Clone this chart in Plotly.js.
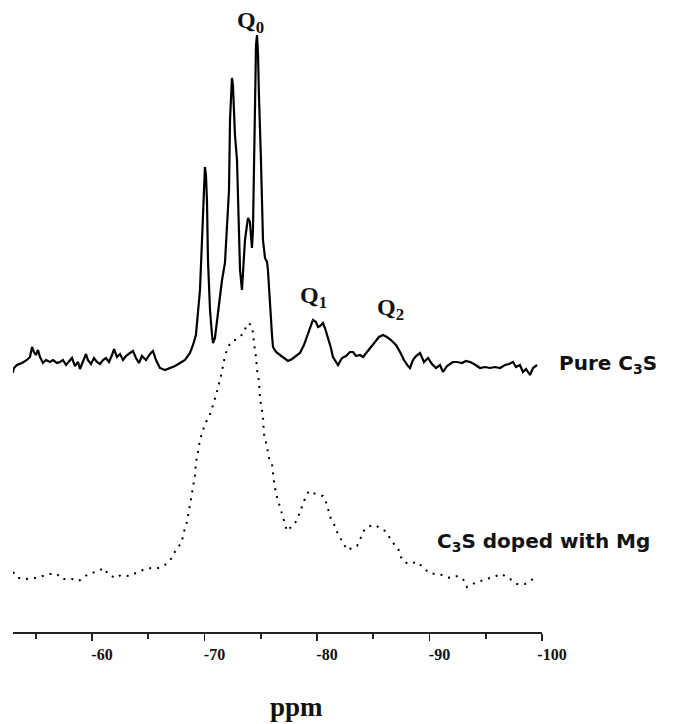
<!DOCTYPE html>
<html>
<head>
<meta charset="utf-8">
<script src="https://cdn.plot.ly/plotly-3.0.1.min.js"></script>
<style>
  html, body { margin: 0; padding: 0; background: #fff; }
  #chart { width: 678px; height: 724px; }
</style>
</head>
<body>
<div id="chart"></div>
<script>
// Chemical shift (ppm) and intensity (a.u.) for pure C3S (solid line)
const purePpm = [-52.95,-53.07,-53.33,-53.78,-54.22,-54.49,-54.67,-54.84,-55.02,-55.2,-55.38,-55.64,-55.91,-56.27,-56.53,-56.89,-57.16,-57.42,-57.69,-57.96,-58.22,-58.49,-58.76,-58.93,-59.2,-59.47,-59.64,-59.91,-60.18,-60.44,-60.71,-60.98,-61.24,-61.51,-61.78,-61.96,-62.22,-62.49,-62.76,-63.02,-63.38,-63.64,-63.91,-64.18,-64.44,-64.8,-65.16,-65.42,-65.69,-66.04,-66.49,-66.93,-67.38,-67.82,-68.27,-68.71,-68.98,-69.24,-69.42,-69.6,-69.78,-69.96,-70.04,-70.13,-70.22,-70.31,-70.49,-70.67,-70.76,-70.93,-71.11,-71.38,-71.56,-71.82,-72.0,-72.18,-72.27,-72.36,-72.44,-72.53,-72.62,-72.71,-72.89,-72.98,-73.07,-73.16,-73.33,-73.42,-73.6,-73.78,-73.87,-74.04,-74.13,-74.22,-74.31,-74.4,-74.49,-74.58,-74.67,-74.76,-74.84,-74.93,-75.02,-75.11,-75.2,-75.38,-75.56,-75.64,-75.82,-76.0,-76.09,-76.36,-76.71,-77.07,-77.42,-77.78,-78.13,-78.49,-78.84,-79.2,-79.38,-79.64,-79.91,-80.09,-80.27,-80.53,-80.71,-80.98,-81.24,-81.42,-81.69,-81.87,-82.22,-82.58,-82.93,-83.2,-83.47,-83.82,-84.09,-84.44,-84.8,-85.16,-85.51,-85.87,-86.22,-86.58,-86.76,-87.02,-87.38,-87.73,-88.09,-88.27,-88.53,-88.8,-89.16,-89.51,-89.87,-90.22,-90.58,-90.93,-91.2,-91.56,-91.82,-92.09,-92.44,-92.89,-93.24,-93.6,-93.96,-94.22,-94.49,-94.93,-95.38,-95.82,-96.27,-96.71,-97.07,-97.42,-97.69,-98.04,-98.31,-98.58,-98.93,-99.2,-99.56];
const pureInt = [-6,-1,2,4,7,10,20,15,12,17,10,4,7,5,7,4,5,7,2,6,9,1,5,-2,5,13,7,3,9,5,3,7,9,5,12,18,10,13,7,11,14,16,9,4,11,7,13,16,7,-1,-3,-1,1,4,7,14,22,32,52,77,127,187,200,192,167,107,57,32,24,29,47,70,87,104,137,177,247,277,289,282,257,232,207,167,127,97,77,97,127,142,149,145,135,119,137,217,277,322,332,312,272,247,207,167,127,109,105,97,60,32,20,15,12,9,6,8,11,14,22,34,40,47,45,40,41,44,39,30,19,10,5,2,9,11,15,15,11,12,10,15,19,25,30,32,30,27,25,22,15,7,1,-1,7,11,14,5,9,3,-1,2,-5,1,3,5,5,4,6,5,3,1,-1,0,-1,0,-1,2,3,5,0,2,-5,-2,-8,-1,2];

// Chemical shift (ppm) and intensity (a.u.) for C3S doped with Mg (dotted line)
const dopedPpm = [-52.98,-53.42,-53.78,-54.22,-54.93,-55.56,-56.27,-56.89,-57.33,-57.78,-58.22,-58.84,-59.38,-60.0,-60.53,-61.07,-61.42,-62.04,-62.58,-63.29,-63.91,-64.53,-65.24,-65.87,-66.49,-67.02,-67.29,-67.64,-68.0,-68.09,-68.44,-68.71,-68.89,-68.98,-69.16,-69.24,-69.42,-69.6,-69.87,-70.13,-70.4,-70.67,-70.76,-71.11,-71.2,-71.38,-71.47,-71.64,-71.73,-71.82,-72.0,-72.09,-72.44,-72.71,-72.98,-73.42,-73.69,-73.96,-74.22,-74.31,-74.49,-74.58,-74.67,-74.76,-74.84,-74.93,-75.02,-75.11,-75.2,-75.29,-75.47,-75.56,-75.73,-76.0,-76.18,-76.36,-76.71,-76.98,-77.16,-77.33,-77.6,-77.87,-78.22,-78.49,-78.76,-79.02,-79.29,-79.64,-80.09,-80.53,-80.8,-81.24,-81.6,-81.78,-82.04,-82.4,-82.67,-83.11,-83.56,-83.82,-84.09,-84.36,-84.71,-85.16,-85.6,-86.04,-86.49,-86.76,-87.2,-87.56,-88.09,-88.44,-88.89,-89.42,-89.96,-90.49,-91.11,-91.82,-92.53,-93.16,-93.33,-94.04,-94.76,-95.38,-95.91,-96.44,-96.8,-97.16,-97.78,-98.49,-99.2,-99.56];
const dopedInt = [5,-1,-1,-2,-1,1,3,3,-2,-2,-2,-4,1,4,6,9,3,-1,2,1,4,7,9,9,12,18,24,29,35,42,55,72,82,90,102,114,125,137,147,155,160,168,172,185,191,196,202,209,215,221,227,230,236,237,239,243,250,254,250,244,226,220,207,202,196,179,172,166,160,143,136,130,119,113,95,83,70,59,53,46,49,51,57,65,74,81,86,84,82,81,75,58,51,45,40,33,27,29,31,37,45,49,51,52,49,46,39,34,29,17,13,14,15,10,4,3,2,-1,1,-4,-10,-6,-3,-1,1,3,0,-2,-7,-7,-2,-1];

// Axis ticks
const tickVals = [-60, -70, -80, -90, -100];
const tickText = ['-60', '-70', '-80', '-90', '-100'];
const minorTickVals = [-55, -65, -75, -85, -95];

// Peak labels
const peakLabels = ['Q<sub>0</sub>', 'Q<sub>1</sub>', 'Q<sub>2</sub>'];
const peakLabelPpm = [-74.1, -79.7, -86.5];
const peakLabelInt = [345, 70, 58];

// Vertical stacking offsets (a.u.)
const pureOffset = 265;
const dopedOffset = 55;

const traces = [
  {
    x: purePpm, y: pureInt.map(v => v + pureOffset),
    type: 'scatter', mode: 'lines',
    line: { color: '#000', width: 2.2, shape: 'linear' },
    hoverinfo: 'skip'
  },
  {
    x: dopedPpm, y: dopedInt.map(v => v + dopedOffset),
    type: 'scatter', mode: 'lines',
    line: { color: '#000', width: 2, dash: '2px,6px' },
    hoverinfo: 'skip'
  }
];

const serif = 'Liberation Serif, Times New Roman, serif';
const sans = 'DejaVu Sans, Liberation Sans, sans-serif';

const annotations = peakLabels.map((t, i) => ({
  x: peakLabelPpm[i], y: peakLabelInt[i] + pureOffset, xref: 'x', yref: 'y',
  text: '<b>' + t + '</b>', showarrow: false,
  font: { family: serif, size: 24, color: '#111' },
  xanchor: 'center', yanchor: 'middle'
}));

annotations.push({
  x: 1.028, xref: 'paper', y: pureOffset + 3, yref: 'y',
  text: '<b>Pure C<sub>3</sub>S</b>', showarrow: false,
  font: { family: sans, size: 20, color: '#111' },
  xanchor: 'left', yanchor: 'middle'
});
annotations.push({
  x: -90.49, xref: 'x', y: dopedOffset + 35, yref: 'y',
  text: '<b>C<sub>3</sub>S doped with Mg</b>', showarrow: false,
  font: { family: sans, size: 20, color: '#111' },
  xanchor: 'left', yanchor: 'middle'
});
annotations.push({
  x: -78.2, xref: 'x', y: -0.118, yref: 'paper',
  text: '<b>ppm</b>', showarrow: false,
  font: { family: serif, size: 27, color: '#111' },
  xanchor: 'center', yanchor: 'middle'
});

const layout = {
  width: 678, height: 724,
  margin: { l: 13, r: 136, t: 0, b: 92 },
  paper_bgcolor: '#fff', plot_bgcolor: '#fff',
  showlegend: false,
  hovermode: false,
  xaxis: {
    range: [-52.98, -100],
    showgrid: false, zeroline: false,
    showline: true, linecolor: '#222', linewidth: 1.6,
    ticks: 'outside', ticklen: 7, tickwidth: 1.6, tickcolor: '#222',
    tickmode: 'array', tickvals: tickVals, ticktext: tickText,
    ticklabelshift: -10,
    tickfont: { family: serif, size: 16, color: '#111', weight: 'bold' },
    minor: { tickmode: 'array', tickvals: minorTickVals, ticks: 'outside', ticklen: 5, tickwidth: 1.6, tickcolor: '#222', showgrid: false },
    fixedrange: true
  },
  yaxis: {
    range: [0, 632], visible: false, fixedrange: true
  },
  annotations: annotations
};

Plotly.newPlot('chart', traces, layout, { staticPlot: true, displayModeBar: false });
</script>
</body>
</html>
